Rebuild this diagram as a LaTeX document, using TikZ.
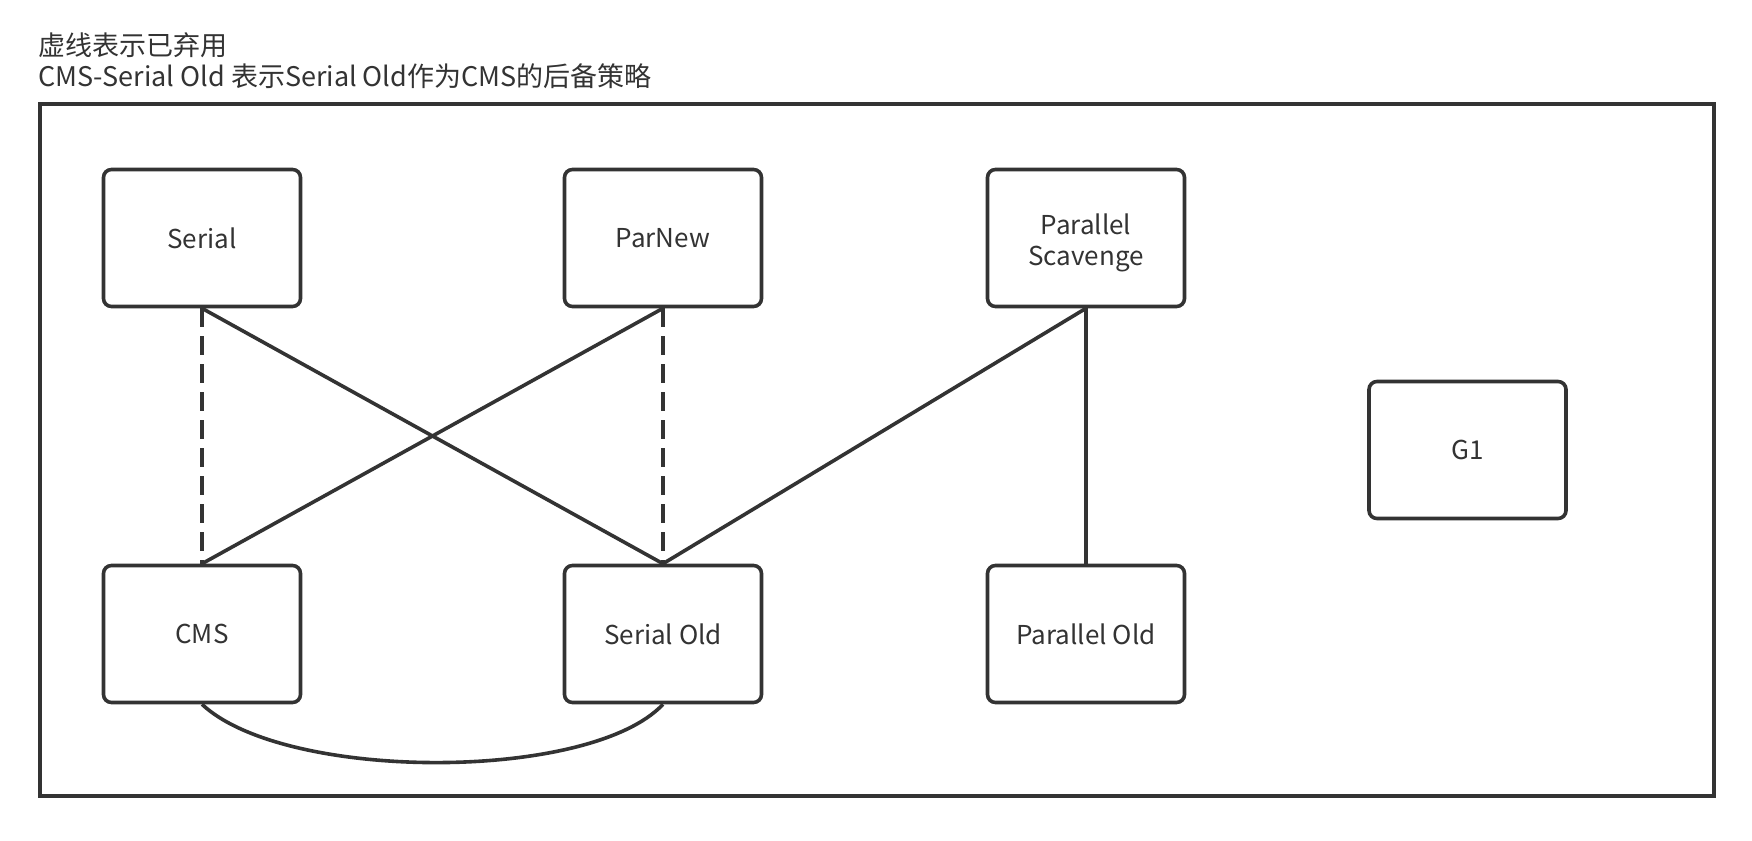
\documentclass[tikz,border=0pt]{standalone}
\usepackage{fontspec}
\setmainfont{Noto Sans CJK SC}
\definecolor{dark}{HTML}{333333}
\begin{document}
\begin{tikzpicture}[x=1pt,y=-1pt,
  gcbox/.style={draw=dark, line width=3.6pt, rounded corners=8pt,
    minimum width=197pt, minimum height=137pt, inner sep=0pt,
    font=\fontsize{26}{31}\selectfont, align=center, text=dark},
  conn/.style={draw=dark, line width=3.6pt},
  dconn/.style={conn, dash pattern=on 19pt off 9pt},
  title/.style={anchor=west, inner sep=0pt, text=dark, font=\fontsize{27}{31}\selectfont}]
\useasboundingbox (0,0) rectangle (1752,840);
\fill[white] (0,0) rectangle (1752,840);
\node[title] (t1) at (38,45) {虚线表示已弃用};
\node[title] (t2) at (38,76) {CMS-Serial Old 表示Serial Old作为CMS的后备策略};
\draw[draw=dark, line width=3.9pt] (40,104) rectangle (1714,796);
\node[gcbox] (serial) at (202,238) {Serial};
\node[gcbox] (parnew) at (663,238) {ParNew};
\node[gcbox] (ps) at (1086,238) {\rule{0pt}{31pt}Parallel\\Scavenge};
\node[gcbox] (g1) at (1467.5,450) {G1};
\node[gcbox] (cms) at (202,634) {CMS};
\node[gcbox] (so) at (663,634) {Serial Old};
\node[gcbox] (po) at (1086,634) {Parallel Old};
\draw[dconn] (serial.south) -- (cms.north);
\draw[dconn] (parnew.south) -- (so.north);
\draw[conn] (serial.south) -- (so.north);
\draw[conn] (parnew.south) -- (cms.north);
\draw[conn] (ps.south) -- (so.north);
\draw[conn] (ps.south) -- (po.north);
\draw[conn] (cms.south) .. controls (285,782) and (590,782) .. (so.south);
\end{tikzpicture}
\end{document}
